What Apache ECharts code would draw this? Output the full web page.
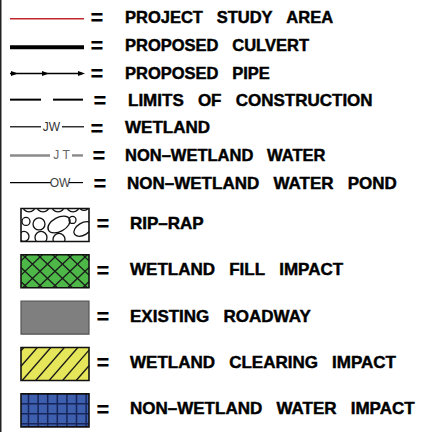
<!DOCTYPE html>
<html>
<head>
<meta charset="utf-8">
<script src="https://cdn.jsdelivr.net/npm/echarts@6/dist/echarts.min.js"></script>
<style>
html,body{margin:0;padding:0;background:#fff;}
#chart{width:425px;height:432px;}
</style>
</head>
<body>
<div id="chart"></div>
<script>
// ---- legend content ----
const lineLabels = ['PROJECT STUDY AREA', 'PROPOSED CULVERT', 'PROPOSED PIPE', 'LIMITS OF CONSTRUCTION', 'WETLAND', 'NON–WETLAND WATER', 'NON–WETLAND WATER POND'];
const lineKinds = ['red', 'thick', 'arrow', 'dash', 'JW', 'JT', 'OW'];
const boxLabels = ['RIP–RAP', 'WETLAND FILL IMPACT', 'EXISTING ROADWAY', 'WETLAND CLEARING IMPACT', 'NON–WETLAND WATER IMPACT'];
const boxKinds = ['riprap', 'crosshatch', 'solid', 'diagonal', 'grid'];

function labelFont(px) { return 'bold ' + px + 'px "Liberation Sans", Arial, sans-serif'; }
const EQ_FONT = 'bold 22px "Liberation Sans", Arial, sans-serif';
const SMALL_FONT = '12px "Liberation Sans", Arial, sans-serif';
const LINE_FONT_SIZE = { red: 16.5, thick: 16.5, arrow: 16.5, dash: 17, JW: 17, JT: 16.5, OW: 17 };

function wide(s) { return s.replace(/ /g, '\u00a0\u00a0\u00a0'); }
function seg(x1, y1, x2, y2, stroke, lw, dash) {
  const st = { stroke: stroke, lineWidth: lw };
  if (dash) st.lineDash = dash;
  return { type: 'line', shape: { x1, y1, x2, y2 }, style: st };
}
function txt(x, y, s, font, fill, align, heavy) {
  const st = { x, y, text: s, font, fill, align: align || 'left', verticalAlign: 'middle' };
  if (heavy) { st.stroke = fill; st.lineWidth = heavy; }
  return { type: 'text', style: st };
}
function clipLine(px, py, dx, dy, x0, y0, x1, y1) {
  let tmin = -1e9, tmax = 1e9;
  if (dx !== 0) { const a = (x0 - px) / dx, b = (x1 - px) / dx; tmin = Math.max(tmin, Math.min(a, b)); tmax = Math.min(tmax, Math.max(a, b)); }
  else if (px < x0 || px > x1) return null;
  if (dy !== 0) { const a = (y0 - py) / dy, b = (y1 - py) / dy; tmin = Math.max(tmin, Math.min(a, b)); tmax = Math.min(tmax, Math.max(a, b)); }
  else if (py < y0 || py > y1) return null;
  if (tmin >= tmax) return null;
  return [px + dx * tmin, py + dy * tmin, px + dx * tmax, py + dy * tmax];
}
function stripes(x0, y0, w, h, dx, dy, spacing, offset, stroke, lw) {
  const out = [];
  for (let k = -10; k < 20; k++) {
    const px = x0 + offset + k * spacing, py = y0 + h / 2;
    const c = clipLine(px, py, dx, dy, x0, y0, x0 + w, y0 + h);
    if (c) out.push(seg(c[0], c[1], c[2], c[3], stroke, lw));
  }
  return out;
}

function renderLine(params, api) {
  const i = api.value(1);
  const yc = api.coord([0, i])[1];
  const kind = lineKinds[i];
  const L = 10, R = 84;
  const ch = [];
  let eqX = 97, labX = 125;
  if (kind === 'red') {
    const y = yc + 1.5;
    ch.push(seg(L, y, R, y, '#c0282d', 1.4));
  } else if (kind === 'thick') {
    const y = yc + 2.5;
    ch.push(seg(L, y, R, y, '#000', 4));
  } else if (kind === 'arrow') {
    const y = yc + 1;
    ch.push(seg(L, y, R - 2, y, '#000', 1.5));
    [18, 49, 85].forEach(function (ax) {
      ch.push({ type: 'polygon', shape: { points: [[ax - 7, y - 2.4], [ax, y], [ax - 7, y + 2.4]] }, style: { fill: '#000' } });
    });
  } else if (kind === 'dash') {
    const y = yc - 0.5;
    ch.push(seg(L, y, 41, y, '#000', 2));
    ch.push(seg(53, y, 83, y, '#000', 2));
    eqX = 100; labX = 128;
  } else if (kind === 'JW') {
    const y = yc - 1;
    ch.push(seg(L, y, 41, y, '#000', 1.2));
    ch.push(txt(51.5, y, 'JW', SMALL_FONT, '#333', 'center'));
    ch.push(seg(62, y, 84, y, '#000', 1.2));
  } else if (kind === 'JT') {
    const y = yc;
    ch.push(seg(L, y, 50, y, '#8a8a8a', 2.4));
    ch.push(txt(61.5, y, 'J T', SMALL_FONT, '#666', 'center'));
    ch.push(seg(72, y, 83, y, '#8a8a8a', 2.4));
    eqX = 99;
  } else if (kind === 'OW') {
    const y = yc - 0.5;
    ch.push(seg(L, y, 51, y, '#000', 1.2));
    ch.push(txt(60, y, 'OW', SMALL_FONT, '#444', 'center'));
    ch.push(seg(69, y, 83, y, '#000', 1.2));
    eqX = 100; labX = 127;
  }
  ch.push(txt(eqX, yc + 0.5, '=', EQ_FONT, '#000', 'center'));
  ch.push(txt(labX, yc, wide(lineLabels[i]), labelFont(LINE_FONT_SIZE[kind]), '#000', 'left', 0.45));
  return { type: 'group', children: ch };
}

function renderBox(params, api) {
  const i = api.value(1);
  const yc = api.coord([0, i])[1];
  const kind = boxKinds[i];
  const x0 = 21, w = 68, h = 33;
  const y0 = yc + 1.5 - h / 2;
  const ch = [];
  const border = { type: 'rect', shape: { x: x0, y: y0, width: w, height: h }, style: { fill: 'none', stroke: '#111', lineWidth: 1.6 } };
  if (kind === 'riprap') {
    ch.push({ type: 'rect', shape: { x: x0, y: y0, width: w, height: h }, style: { fill: '#fff' } });
    const shapes = [
      [8, -3, 6.5, 6.5, 0], [22, -3, 6.5, 6.5, 0], [37, -3, 6.5, 6.5, 0], [52, -3, 6.5, 6.5, 0], [63, -3, 5, 5, 0],
      [5, 13, 4, 4, 0], [18, 15.5, 6, 6, 0], [38, 16, 12, 7, 0.5], [51.5, 11.5, 3.5, 3.5, 0],
      [62, 20.5, 10, 6, 0.55], [20, 29, 6, 6, 0], [38, 31, 6, 6, 0], [3, 28, 5, 5, 0]
    ];
    shapes.forEach(function (s) {
      ch.push({ type: 'ellipse', x: x0 + s[0], y: y0 + s[1], rotation: s[4], shape: { cx: 0, cy: 0, rx: s[2], ry: s[3] }, style: { fill: 'none', stroke: '#111', lineWidth: 1.3 } });
    });
    const m = 12, white = { fill: '#fff' };
    ch.push({ type: 'rect', shape: { x: x0 - m, y: y0 - m, width: w + 2 * m, height: m }, style: white });
    ch.push({ type: 'rect', shape: { x: x0 - m, y: y0 + h, width: w + 2 * m, height: m }, style: white });
    ch.push({ type: 'rect', shape: { x: x0 - m, y: y0 - m, width: m, height: h + 2 * m }, style: white });
    ch.push({ type: 'rect', shape: { x: x0 + w, y: y0 - m, width: m - 3, height: h + 2 * m }, style: white });
    ch.push(border);
  } else if (kind === 'crosshatch') {
    ch.push({ type: 'rect', shape: { x: x0, y: y0, width: w, height: h }, style: { fill: '#4db848' } });
    stripes(x0, y0, w, h, 1, 0.95, 15, 4, '#1a1a1a', 1.3).forEach(function (e) { ch.push(e); });
    stripes(x0, y0, w, h, 1, -0.95, 15, 4, '#1a1a1a', 1.3).forEach(function (e) { ch.push(e); });
    ch.push(border);
  } else if (kind === 'solid') {
    ch.push({ type: 'rect', shape: { x: x0, y: y0, width: w, height: h }, style: { fill: '#7f7f7f', stroke: '#555', lineWidth: 1.2 } });
  } else if (kind === 'diagonal') {
    ch.push({ type: 'rect', shape: { x: x0, y: y0, width: w, height: h }, style: { fill: '#e6e65a' } });
    stripes(x0, y0, w, h, 1, -1.15, 13.5, 2, '#1a1a1a', 1.3).forEach(function (e) { ch.push(e); });
    ch.push(border);
  } else if (kind === 'grid') {
    ch.push({ type: 'rect', shape: { x: x0, y: y0, width: w, height: h }, style: { fill: '#3e5eae' } });
    for (let gx = x0 + 7.5; gx < x0 + w; gx += 9.6) ch.push(seg(gx, y0, gx, y0 + h, '#16265a', 1.5));
    for (let gy = y0 + 10; gy < y0 + h; gy += 10) ch.push(seg(x0, gy, x0 + w, gy, '#16265a', 1.5));
    ch.push(border);
  }
  ch.push(txt(103, yc + 0.5, '=', EQ_FONT, '#000', 'center'));
  ch.push(txt(130, yc, wide(boxLabels[i]), labelFont(17), '#000', 'left', 0.45));
  return { type: 'group', children: ch };
}

const chart = echarts.init(document.getElementById('chart'), null, { renderer: 'svg', width: 425, height: 432 });
chart.setOption({
  animation: false,
  backgroundColor: '#fff',
  grid: [
    { left: 0, right: 0, top: 3.4, height: 193.5 },
    { left: 0, right: 0, top: 200.3, height: 237 }
  ],
  xAxis: [
    { type: 'value', gridIndex: 0, min: 0, max: 425, show: false },
    { type: 'value', gridIndex: 1, min: 0, max: 425, show: false }
  ],
  yAxis: [
    { type: 'category', gridIndex: 0, data: lineLabels, inverse: true, show: false },
    { type: 'category', gridIndex: 1, data: boxLabels, inverse: true, show: false }
  ],
  graphic: [
    { type: 'rect', left: 0, top: 0, shape: { x: 0, y: 0, width: 1.5, height: 432 }, style: { fill: '#222' }, silent: true }
  ],
  series: [
    { type: 'custom', xAxisIndex: 0, yAxisIndex: 0, silent: true, clip: false,
      data: lineLabels.map(function (_, i) { return [0, i]; }), renderItem: renderLine },
    { type: 'custom', xAxisIndex: 1, yAxisIndex: 1, silent: true, clip: false,
      data: boxLabels.map(function (_, i) { return [0, i]; }), renderItem: renderBox }
  ]
});
</script>
</body>
</html>
